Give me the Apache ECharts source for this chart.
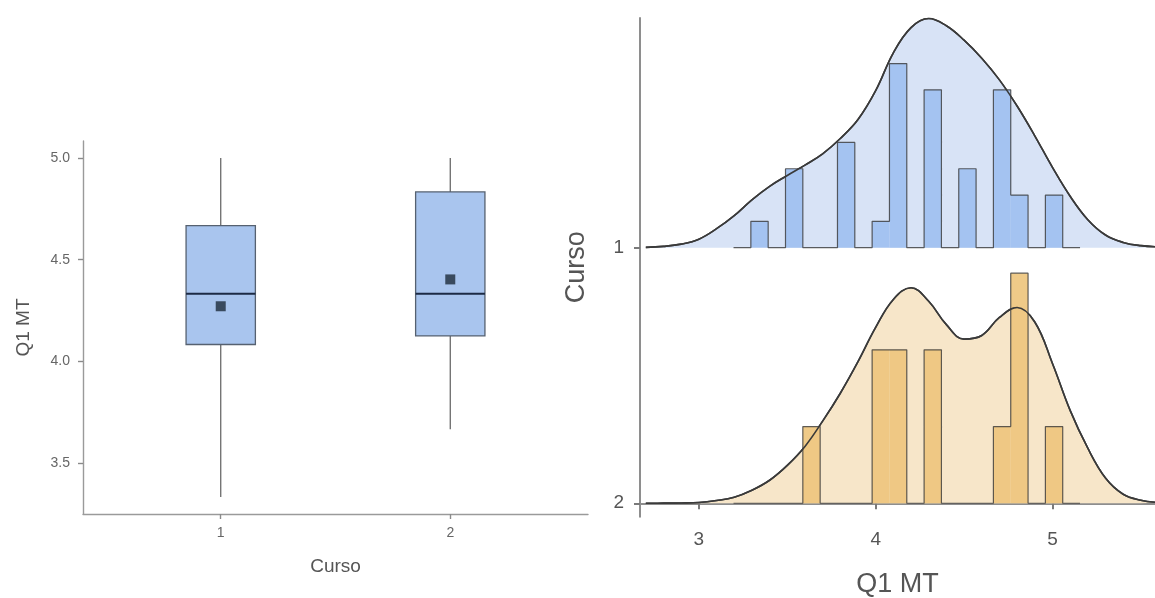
<!DOCTYPE html>
<html>
<head>
<meta charset="utf-8">
<script src="https://cdn.jsdelivr.net/npm/echarts@6/dist/echarts.min.js"></script>
<style>html,body{margin:0;padding:0;background:#fff}#c{width:1155px;height:598px}</style>
</head>
<body>
<div id="c"></div>
<script>
// ---- data ----
const courses = ['1', '2'];
const courseX = [1, 2];
const boxMin = [3.333, 3.667];
const boxQ1 = [4.083, 4.125];
const boxMedian = [4.333, 4.333];
const boxQ3 = [4.667, 4.833];
const boxMax = [5.0, 5.0];
const boxMean = [4.271, 4.403];
const leftYTicks = [3.5, 4.0, 4.5, 5.0];
const rightXTicks = [3, 4, 5];

const histStart = 3.196;
const binWidth = 0.098;
const histCounts1 = [0,1,0,3,0,0,4,0,1,7,0,6,0,3,0,6,2,0,2,0];
const histCounts2 = [0,0,0,0,1,0,0,0,2,2,0,2,0,0,0,1,3,0,1,0];

const densityX = [2.7,2.8,2.9,3.0,3.1,3.2,3.3,3.4,3.5,3.6,3.7,3.8,3.9,4.0,4.1,4.2,4.3,4.4,4.5,4.6,4.7,4.8,4.9,5.0,5.1,5.2,5.3,5.4,5.5,5.6];
const density1 = [0.003,0.014,0.039,0.094,0.21,0.355,0.53,0.68,0.80,0.915,1.04,1.21,1.42,1.74,2.16,2.44,2.54,2.46,2.30,2.10,1.86,1.57,1.24,0.89,0.57,0.31,0.14,0.058,0.022,0.009];
const density2 = [0,0.001,0.003,0.008,0.03,0.067,0.144,0.255,0.42,0.63,0.91,1.22,1.57,1.95,2.26,2.39,2.24,1.98,1.82,1.86,2.06,2.17,2.01,1.55,1.03,0.61,0.28,0.10,0.033,0.008];

// ---- layout / style ----
const FONT = "'Liberation Sans', Arial, sans-serif";
const ridgeBase = [2.834, 0];          // y position of ridge for course 1, 2
const ridgeArea = ['#d8e3f6', '#f7e6c9'];
const ridgeHist = ['rgba(160,192,240,0.92)', 'rgba(238,198,126,0.92)'];
const histCounts = [histCounts1, histCounts2];
const densities = [density1, density2];

const boxData = courseX.map((x, i) => [x, boxMin[i], boxQ1[i], boxMedian[i], boxQ3[i], boxMax[i]]);
const meanData = courseX.map((x, i) => [x, boxMean[i]]);

function renderBox(params, api) {
  const x = api.value(0), lo = api.value(1), q1 = api.value(2), med = api.value(3), q3 = api.value(4), hi = api.value(5);
  const hw = 0.151;
  const top = api.coord([x, hi]), bot = api.coord([x, lo]);
  const pq3 = api.coord([x, q3]), pq1 = api.coord([x, q1]);
  const bl = api.coord([x - hw, q1]), tr = api.coord([x + hw, q3]);
  const ml = api.coord([x - hw, med]), mr = api.coord([x + hw, med]);
  return {
    type: 'group',
    children: [
      {type: 'line', shape: {x1: top[0], y1: top[1], x2: pq3[0], y2: pq3[1]}, style: {stroke: '#6a6a6a', lineWidth: 1.3}},
      {type: 'line', shape: {x1: pq1[0], y1: pq1[1], x2: bot[0], y2: bot[1]}, style: {stroke: '#6a6a6a', lineWidth: 1.3}},
      {type: 'rect', shape: {x: bl[0], y: tr[1], width: tr[0] - bl[0], height: bl[1] - tr[1]}, style: {fill: '#a9c5ee', stroke: '#566170', lineWidth: 1.3}},
      {type: 'line', shape: {x1: ml[0], y1: ml[1], x2: mr[0], y2: mr[1]}, style: {stroke: '#1c2a44', lineWidth: 2}}
    ]
  };
}

function renderHistBar(params, api) {
  const p0 = api.coord([api.value(0), api.value(3)]);
  const p1 = api.coord([api.value(1), api.value(2)]);
  return {type: 'rect', shape: {x: p0[0], y: p1[1], width: p1[0] - p0[0], height: p0[1] - p1[1]}, style: api.style()};
}

const series = [];
// left: boxplot
series.push({
  type: 'custom', xAxisIndex: 0, yAxisIndex: 0, renderItem: renderBox,
  encode: {x: 0, y: [1, 2, 3, 4, 5]}, data: boxData, silent: true
});
series.push({
  type: 'scatter', xAxisIndex: 0, yAxisIndex: 0, data: meanData,
  symbol: 'rect', symbolSize: 10, itemStyle: {color: '#1d2a3a'}, silent: true, z: 5
});

// right: ridges
for (let g = 0; g < 2; g++) {
  const base = ridgeBase[g];
  const counts = histCounts[g];
  const n = counts.reduce((a, b) => a + b, 0);
  // density area
  series.push({
    type: 'line', xAxisIndex: 1, yAxisIndex: 1, symbol: 'none', smooth: 0.4,
    data: densityX.map((x, i) => [x, base + densities[g][i]]),
    lineStyle: {color: '#3a3a3a', width: 1.6},
    areaStyle: {color: ridgeArea[g], opacity: 1, origin: base},
    silent: true, z: 2
  });
  // histogram bars
  const bars = [];
  counts.forEach((c, i) => {
    if (c > 0) {
      const x0 = histStart + i * binWidth;
      bars.push([x0, x0 + binWidth, base + c / (n * binWidth), base]);
    }
  });
  series.push({
    type: 'custom', xAxisIndex: 1, yAxisIndex: 1, renderItem: renderHistBar,
    encode: {x: [0, 1], y: [2, 3]}, data: bars, itemStyle: {color: ridgeHist[g]}, silent: true, z: 3
  });
  // histogram outline (step)
  const outline = counts.map((c, i) => [histStart + i * binWidth, base + c / (n * binWidth)]);
  outline.push([histStart + counts.length * binWidth, base]);
  series.push({
    type: 'line', xAxisIndex: 1, yAxisIndex: 1, step: 'end', symbol: 'none', data: outline,
    lineStyle: {color: 'rgba(55,55,55,0.8)', width: 1.2}, silent: true, z: 4
  });
  // density outline on top
  series.push({
    type: 'line', xAxisIndex: 1, yAxisIndex: 1, symbol: 'none', smooth: 0.4,
    data: densityX.map((x, i) => [x, base + densities[g][i]]),
    lineStyle: {color: '#3a3a3a', width: 1.6}, silent: true, z: 5
  });
}

const leftAxisLine = {show: true, lineStyle: {color: '#9a9a9a', width: 1.4}};
const rightAxisLine = {show: true, lineStyle: {color: '#8e8e8e', width: 2}};

const option = {
  animation: false,
  backgroundColor: '#ffffff',
  grid: [
    {left: 83, top: 141, width: 505, height: 373, outerBoundsMode: 'none', containLabel: false},
    {left: 640, top: 18, width: 515, height: 498.7, outerBoundsMode: 'none', containLabel: false}
  ],
  xAxis: [
    {
      type: 'value', gridIndex: 0, min: 0.4, max: 2.6,
      axisLine: leftAxisLine, splitLine: {show: false},
      axisTick: {show: true, length: 5, customValues: courseX, lineStyle: {color: '#8a8a8a', width: 1.4}},
      axisLabel: {customValues: courseX, formatter: v => courses[Math.round(v) - 1], margin: 12,
        color: '#666', fontSize: 14, fontFamily: FONT},
      name: 'Curso', nameLocation: 'middle', nameGap: 43,
      nameTextStyle: {color: '#555', fontSize: 19, fontFamily: FONT}
    },
    {
      type: 'value', gridIndex: 1, min: 2.667, max: 5.58,
      axisLine: rightAxisLine, splitLine: {show: false},
      axisTick: {show: true, length: 6, customValues: rightXTicks, lineStyle: {color: '#7a7a7a', width: 2}},
      axisLabel: {customValues: rightXTicks, formatter: v => String(v), margin: 14,
        color: '#555', fontSize: 19, fontFamily: FONT},
      name: 'Q1 MT', nameLocation: 'middle', nameGap: 54,
      nameTextStyle: {color: '#555', fontSize: 27, fontFamily: FONT}
    }
  ],
  yAxis: [
    {
      type: 'value', gridIndex: 0, min: 3.25, max: 5.0833,
      axisLine: leftAxisLine, splitLine: {show: false},
      axisTick: {show: true, length: 5, customValues: leftYTicks, lineStyle: {color: '#8a8a8a', width: 1.4}},
      axisLabel: {customValues: leftYTicks, formatter: v => v.toFixed(1), margin: 13,
        color: '#666', fontSize: 14, fontFamily: FONT},
      name: 'Q1 MT', nameLocation: 'middle', nameGap: 50,
      nameTextStyle: {color: '#555', fontSize: 19, fontFamily: FONT}
    },
    {
      type: 'value', gridIndex: 1, min: -0.149, max: 5.38,
      axisLine: rightAxisLine, splitLine: {show: false},
      axisTick: {show: true, length: 6, customValues: ridgeBase, lineStyle: {color: '#7a7a7a', width: 2}},
      axisLabel: {customValues: ridgeBase, formatter: v => courses[ridgeBase.findIndex(b => Math.abs(b - v) < 1e-6)], margin: 16,
        color: '#555', fontSize: 19, fontFamily: FONT},
      name: 'Curso', nameLocation: 'middle', nameGap: 50,
      nameTextStyle: {color: '#555', fontSize: 27, fontFamily: FONT}
    }
  ],
  series: series
};

const chart = echarts.init(document.getElementById('c'), null, {renderer: 'canvas'});
chart.setOption(option);
</script>
</body>
</html>
